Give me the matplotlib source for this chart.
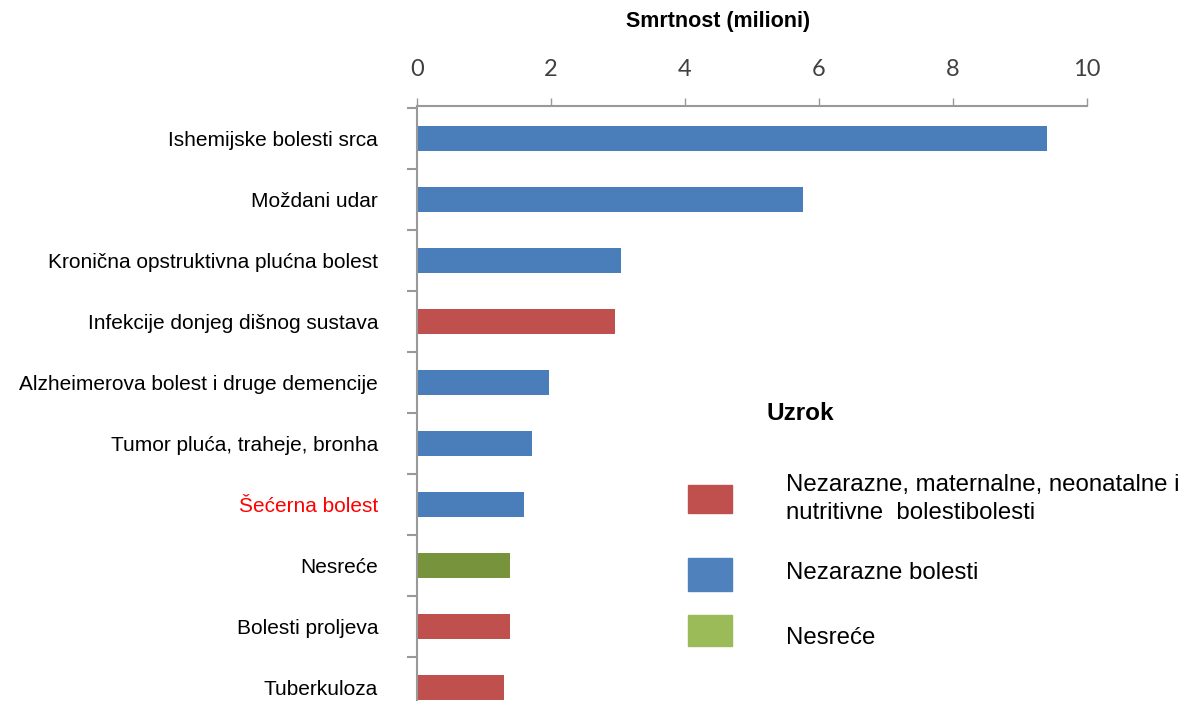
import matplotlib.pyplot as plt
from matplotlib.patches import Rectangle
from matplotlib.ticker import FixedLocator

# Data
causes = [
    "Ishemijske bolesti srca",
    "Moždani udar",
    "Kronična opstruktivna plućna bolest",
    "Infekcije donjeg dišnog sustava",
    "Alzheimerova bolest i druge demencije",
    "Tumor pluća, traheje, bronha",
    "Šećerna bolest",
    "Nesreće",
    "Bolesti proljeva",
    "Tuberkuloza",
]
deaths = [9.4, 5.76, 3.04, 2.96, 1.97, 1.71, 1.59, 1.39, 1.39, 1.30]
groups = ["ncd", "ncd", "ncd", "comm", "ncd", "ncd", "ncd", "inj", "comm", "comm"]

group_names = {
    "comm": "Nezarazne, maternalne, neonatalne i\nnutritivne  bolestibolesti",
    "ncd": "Nezarazne bolesti",
    "inj": "Nesreće",
}
bar_colors = {"comm": "#c0504d", "ncd": "#4a7ebb", "inj": "#77933c"}
legend_colors = {"comm": "#c0504d", "ncd": "#4f81bd", "inj": "#9bbb59"}

plt.rcParams['font.family'] = ['Liberation Sans', 'DejaVu Sans']

fig = plt.figure(figsize=(11.9, 7.01), dpi=100)
ax = fig.add_axes([417 / 1190, 0, (1087 - 417) / 1190, 1 - 106 / 701])

y = list(range(len(causes)))
ax.barh(y, deaths, height=0.4, color=[bar_colors[g] for g in groups])

ax.set_xlim(0, 10)
ax.set_ylim(9.22, -0.53)

# x axis on top
ax.xaxis.tick_top()
ax.set_xticks([0, 2, 4, 6, 8, 10])
ax.tick_params(axis='x', direction='out', length=6, width=1, color='#999999',
               pad=13, labelsize=17, labelcolor='#404040')
for lab in ax.get_xticklabels():
    lab.set_family(['Lato', 'DejaVu Sans'])

# y labels, ticks between categories
ax.set_yticks(y)
ax.set_yticklabels(causes)
ax.tick_params(axis='y', which='major', length=0, pad=28, labelsize=15,
               labelcolor='black')
ax.yaxis.set_minor_locator(FixedLocator([i + 0.5 for i in range(-1, len(causes))]))
ax.tick_params(axis='y', which='minor', direction='out', length=7, width=1.5,
               color='#999999')
ax.get_yticklabels()[6].set_color('#ff0000')

for s in ['right', 'bottom']:
    ax.spines[s].set_visible(False)
for s in ['left', 'top']:
    ax.spines[s].set_color('#999999')
    ax.spines[s].set_linewidth(1.5)

fig.text(718 / 1190, 1 - 22 / 701, "Smrtnost (milioni)", ha='center', va='center',
         fontsize=15.5, fontweight='bold')

# legend
fig.text(767 / 1190, 1 - 413 / 701, "Uzrok", ha='left', va='center',
         fontsize=17.5, fontweight='bold')
leg_rows = [("comm", 485, 513, 499), ("ncd", 558, 591, 573), ("inj", 615, 646, 638)]
for g, top, bot, ty in leg_rows:
    fig.patches.append(Rectangle((688 / 1190, 1 - bot / 701), 44 / 1190,
                                 (bot - top) / 701, transform=fig.transFigure,
                                 color=legend_colors[g]))
    fig.text(786 / 1190, 1 - ty / 701, group_names[g], ha='left', va='center',
             fontsize=17.3, linespacing=1.35)

fig.savefig("out.png", dpi=100)
